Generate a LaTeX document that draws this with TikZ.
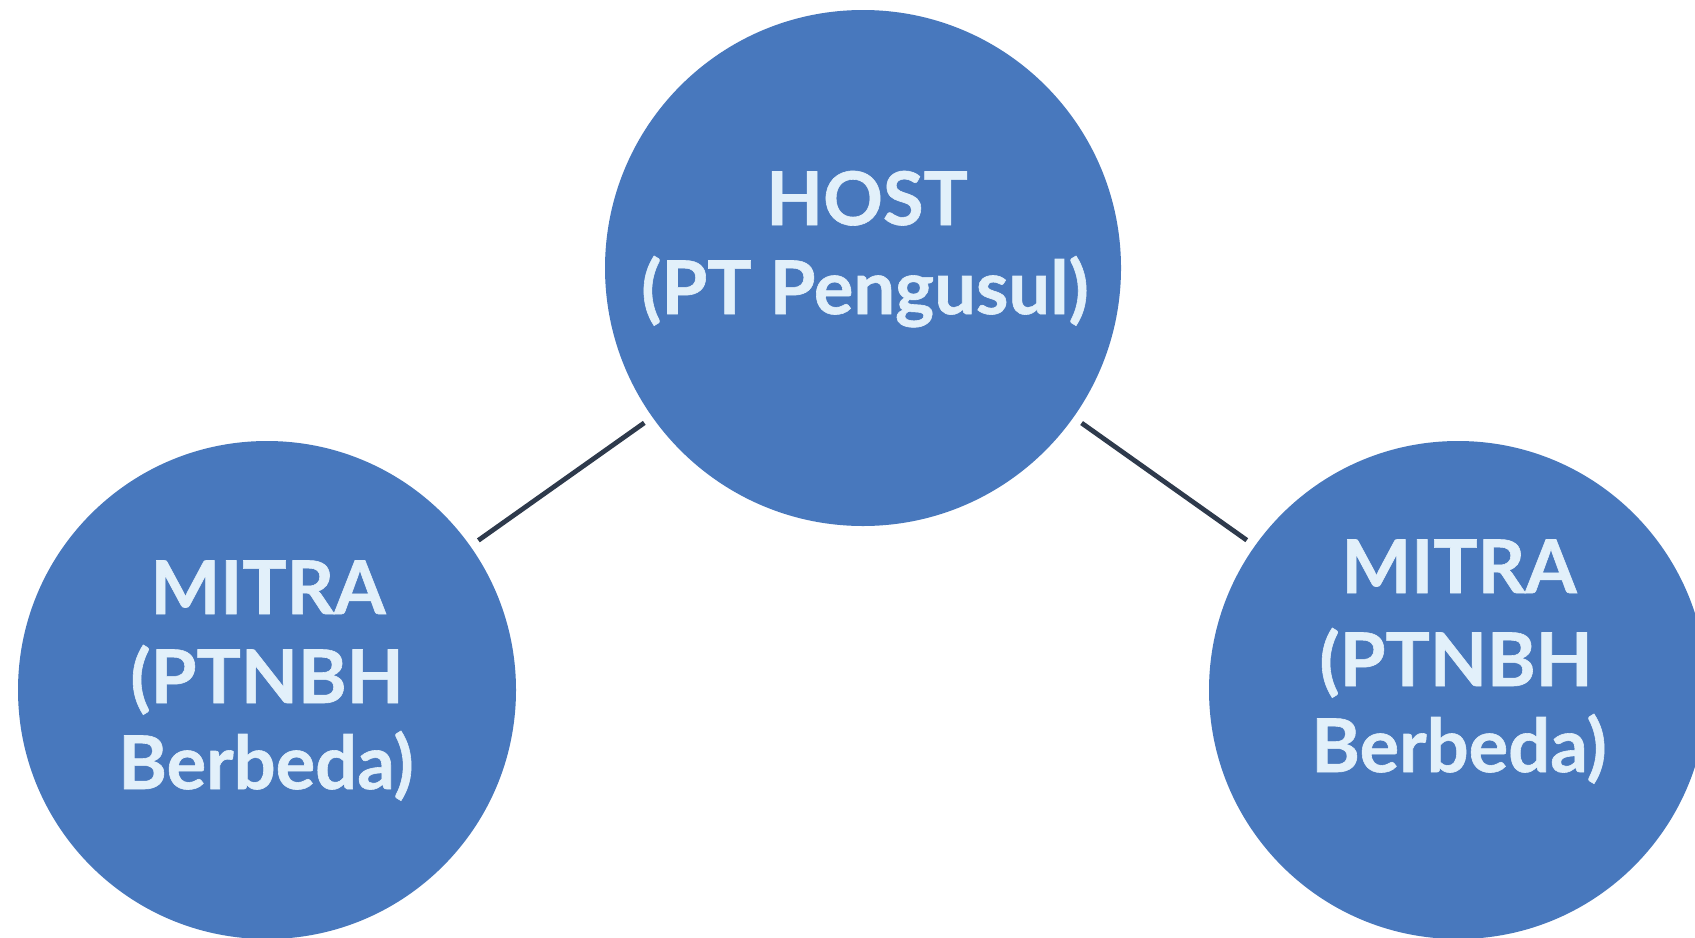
\documentclass[tikz,border=0pt]{standalone}
\usepackage{fontspec}
\setmainfont{Lato}[BoldFeatures={FakeBold=0.8}]
\definecolor{circfill}{HTML}{4878BD}
\definecolor{txtcol}{HTML}{E2F0FA}
\definecolor{linecol}{HTML}{2E3A4C}
\tikzset{
  bubble/.style={circle, fill=circfill, draw=none, inner sep=0pt, outer sep=5pt},
  hostbub/.style={bubble, minimum size=258pt},
  mitrabub/.style={bubble, minimum size=249pt},
  lbl/.style={anchor=base, text=txtcol, inner sep=0pt, font=\fontsize{37}{44}\selectfont\bfseries},
  link/.style={draw=linecol, line width=2.4pt}
}
\begin{document}
\begin{tikzpicture}[x=0.5pt,y=-0.5pt]
\useasboundingbox (0,0) rectangle (1695,937);
\fill[white] (0,0) rectangle (1695,937);
\node[hostbub] (host) at (863,268) {};
\node[mitrabub] (left) at (267,690) {};
\node[mitrabub] (right) at (1458,690) {};
\draw[link] (left) -- (host);
\draw[link] (host) -- (right);
\node[lbl] (h1) at (867,225) {HOST};
\node[lbl] (h2) at (865,314) {(PT Pengusul)};
\node[lbl] (l1) at (268,614) {MITRA};
\node[lbl] (l2) at (267,703) {(PTNBH};
\node[lbl] (l3) at (266,789) {Berbeda)};
\node[lbl] (r1) at (1459,593) {MITRA};
\node[lbl] (r2) at (1456,686) {(PTNBH};
\node[lbl] (r3) at (1459,772) {Berbeda)};
\end{tikzpicture}
\end{document}
